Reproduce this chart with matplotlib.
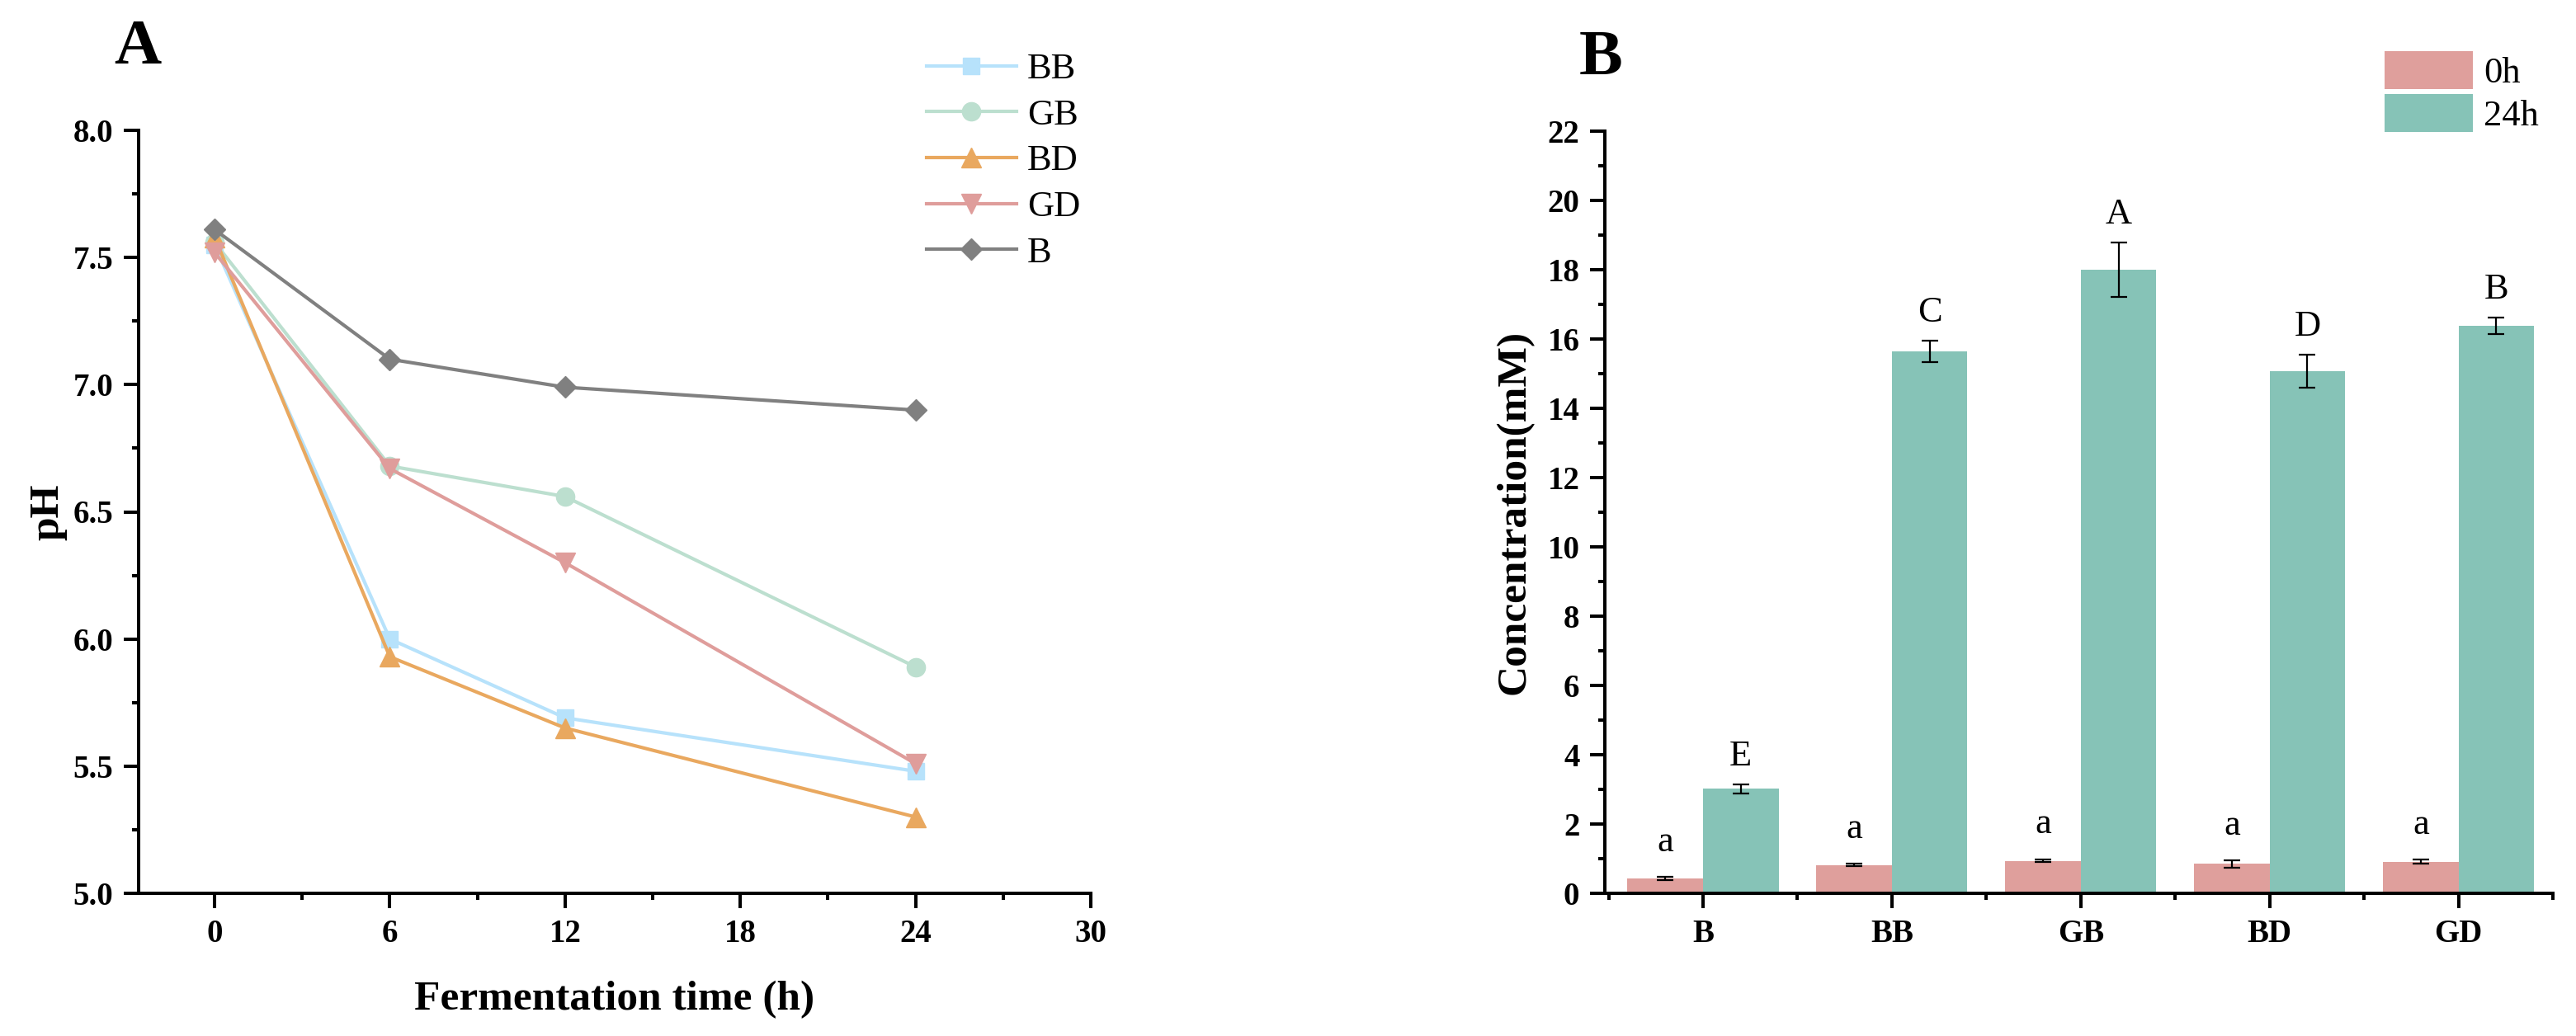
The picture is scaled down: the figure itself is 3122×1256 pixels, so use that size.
import numpy as np
import matplotlib
matplotlib.use('Agg')
import matplotlib.pyplot as plt
from matplotlib.ticker import MultipleLocator

plt.rcParams['font.family'] = ['Liberation Serif', 'DejaVu Serif']

# panel A: pH during fermentation
time_h = [0, 6, 12, 24]
ph_names = ['BB', 'GB', 'BD', 'GD', 'B']
ph_BB = [7.55, 6.00, 5.69, 5.48]
ph_GB = [7.56, 6.68, 6.56, 5.89]
ph_BD = [7.58, 5.93, 5.65, 5.30]
ph_GD = [7.52, 6.67, 6.30, 5.51]
ph_B = [7.61, 7.10, 6.99, 6.90]

# panel B: concentration at 0h / 24h
groups = ['B', 'BB', 'GB', 'BD', 'GD']
conc_0h = [0.43, 0.82, 0.94, 0.85, 0.91]
err_0h = [0.04, 0.03, 0.04, 0.10, 0.06]
conc_24h = [3.02, 15.64, 18.00, 15.07, 16.38]
err_24h = [0.13, 0.31, 0.79, 0.47, 0.23]
sig_0h = ['a', 'a', 'a', 'a', 'a']
sig_24h = ['E', 'C', 'A', 'D', 'B']

W, H = 3122, 1256
fig = plt.figure(figsize=(W / 100, H / 100), dpi=100)

def style_axes(ax):
	for s in ['top', 'right']:
		ax.spines[s].set_visible(False)
	for s in ['left', 'bottom']:
		ax.spines[s].set_linewidth(2.9)
	ax.tick_params(which='major', direction='out', length=13, width=2.9, labelsize=28, pad=9)
	ax.tick_params(which='minor', direction='out', length=6, width=2.9)
	for lab in ax.get_xticklabels() + ax.get_yticklabels():
		lab.set_fontweight('bold')

# ---- panel A ----
axA = fig.add_axes([168 / W, 1 - 1083 / H, (1322 - 168) / W, (1083 - 158) / H])
ph_data = [ph_BB, ph_GB, ph_BD, ph_GD, ph_B]
colours = ['#B7E2FB', '#BCDFCF', '#E9A85F', '#DF9D9B', '#808080']
markers = ['s', 'o', '^', 'v', 'D']
msizes = [15, 16, 17, 17, 13]
for i in range(5):
	axA.plot(time_h, ph_data[i], color=colours[i], marker=markers[i], ms=msizes[i],
		lw=3, label=ph_names[i])
axA.set_xlim(-2.6, 30)
axA.set_ylim(5.0, 8.0)
axA.set_xticks([0, 6, 12, 18, 24, 30])
axA.xaxis.set_minor_locator(MultipleLocator(3))
axA.set_yticks([5.0, 5.5, 6.0, 6.5, 7.0, 7.5, 8.0])
axA.yaxis.set_minor_locator(MultipleLocator(0.25))
axA.set_yticklabels(['5.0', '5.5', '6.0', '6.5', '7.0', '7.5', '8.0'])
style_axes(axA)
axA.set_xlabel('Fermentation time (h)', fontsize=37, fontweight='bold')
axA.xaxis.set_label_coords(0.5, -0.14)
axA.xaxis.label.set_verticalalignment('center')
axA.set_ylabel('pH', fontsize=37, fontweight='bold')
axA.yaxis.set_label_coords(-0.095, 0.5)
axA.yaxis.label.set_verticalalignment('center')
fig.legend(*axA.get_legend_handles_labels(), loc='upper left',
	bbox_to_anchor=(1123 / W, 1 - 64 / H), frameon=False, fontsize=32,
	borderpad=0, borderaxespad=0, handlelength=2.45, handletextpad=0.3,
	labelspacing=0.35)

# ---- panel B ----
axB = fig.add_axes([1945 / W, 1 - 1083 / H, (3094 - 1945) / W, (1083 - 159) / H])
x = np.arange(len(groups))
bw = 0.4
axB.bar(x - bw / 2, conc_0h, bw, color='#DF9F9C', label='0h', zorder=2)
axB.bar(x + bw / 2, conc_24h, bw, color='#86C3B7', label='24h', zorder=2)
axB.errorbar(x - bw / 2, conc_0h, yerr=err_0h, fmt='none', ecolor='black',
	elinewidth=1.6, capsize=7, capthick=1.6, zorder=3)
axB.errorbar(x + bw / 2, conc_24h, yerr=err_24h, fmt='none', ecolor='black',
	elinewidth=1.6, capsize=7, capthick=1.6, zorder=3)
for i in range(len(groups)):
	axB.text(x[i] - bw / 2, conc_0h[i] + err_0h[i] + 0.75, sig_0h[i],
		ha='center', va='baseline', fontsize=32)
	axB.text(x[i] + bw / 2, conc_24h[i] + err_24h[i] + 0.55, sig_24h[i],
		ha='center', va='baseline', fontsize=32)
axB.set_xlim(-0.52, 4.5)
axB.set_ylim(0, 22)
axB.set_xticks(x)
axB.set_xticklabels(groups)
axB.set_xticks(np.arange(-0.5, 5, 1.0), minor=True)
axB.set_yticks(np.arange(0, 23, 2))
axB.yaxis.set_minor_locator(MultipleLocator(1))
style_axes(axB)
axB.set_ylabel('Concentration(mM)', fontsize=37, fontweight='bold')
axB.yaxis.set_label_coords(-0.095, 0.5)
axB.yaxis.label.set_verticalalignment('center')
fig.legend(*axB.get_legend_handles_labels(), loc='upper left',
	bbox_to_anchor=(2890 / W, 1 - 62 / H), frameon=False, fontsize=32,
	borderpad=0, borderaxespad=0, handlelength=2.4, handleheight=1.2,
	handletextpad=0.3, labelspacing=0.12)

# panel letters
fig.text(167 / W, 1 - 77 / H, 'A', fontsize=57, fontweight='bold', ha='center', va='baseline')
fig.text(1940 / W, 1 - 90 / H, 'B', fontsize=57, fontweight='bold', ha='center', va='baseline')

fig.savefig('out.png', dpi=100)
